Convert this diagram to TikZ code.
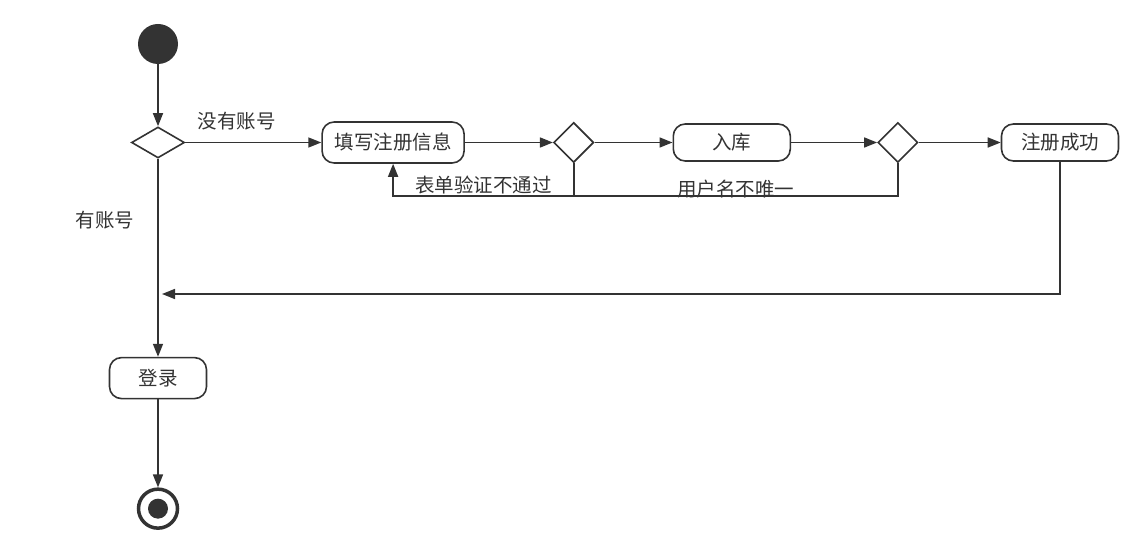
\documentclass[tikz,border=0pt]{standalone}
\usepackage{fontspec}
\newfontfamily\cjk{Noto Sans CJK SC}
\usepackage{tikz}
\usetikzlibrary{positioning, arrows.meta, calc, shapes.geometric}
\definecolor{ink}{HTML}{333333}

\begin{document}
\begin{tikzpicture}[x=1pt,y=-1pt]
	% Define styles
	\tikzset{
		act/.style={rectangle, rounded corners=12pt, draw=ink, line width=1.6pt, text=ink, minimum height=41pt, inner sep=0pt, font=\cjk\fontsize{19.5}{19.5}\selectfont},
		choice/.style={diamond, draw=ink, line width=1.6pt, inner sep=0pt, minimum width=40pt, minimum height=40pt},
		link/.style={draw=ink, line width=1.6pt},
		line/.style={link, -{Triangle[length=13pt,width=10pt]}},
		lbl/.style={text=ink, inner sep=1pt, font=\cjk\fontsize{19.5}{19.5}\selectfont},
		startdot/.style={circle, fill=ink, minimum size=40pt, inner sep=0pt},
		endring/.style={circle, draw=ink, line width=3.5pt, minimum size=39pt, inner sep=0pt},
		enddot/.style={circle, fill=ink, minimum size=20pt, inner sep=0pt}
	}
	\useasboundingbox (0,0) rectangle (1144,556);
	% Nodes
	\node[startdot] (start) at (158,44) {};
	\node[choice, minimum width=53pt, minimum height=31pt, below=62pt of start] (check) {};
	\node[act, minimum width=142pt, right=136pt of check] (fill) {填写注册信息};
	\node[choice, right=88pt of fill] (valid) {};
	\node[act, minimum width=117pt, minimum height=37pt, right=78pt of valid] (store) {入库};
	\node[choice, right=86pt of store] (unique) {};
	\node[act, minimum width=117pt, minimum height=37pt, right=82pt of unique] (done) {注册成功};
	\node[act, minimum width=97pt, below=198pt of check] (login) {登录};
	\node[endring, below=88pt of login] (end) {};
	\node[enddot] at (end) {};

	\coordinate[below=33pt of valid.south] (back);
	\coordinate (level) at (0,294);
	\coordinate (merge) at ($(check.south |- level)+(4,0)$);

	% Arrows
	\draw[line] (start) -- (check);
	\draw[line] (check) -- node[lbl, pos=0.38, above=11pt] {没有账号} (fill);
	\draw[line] (check) -- node[lbl, pos=0.31, left=22pt] {有账号} (login);
	\draw[line] (fill) -- (valid);
	\draw[line] (valid) -- (store);
	\draw[line] (store) -- (unique);
	\draw[line] (unique) -- (done);

	\draw[line] (valid.south) -- (back) -| node[lbl, pos=0.25, above] {表单验证不通过} (fill.south);
	\draw[link] (unique.south) |- node[lbl, pos=0.75, yshift=7pt] {用户名不唯一} (back);
	\draw[line] (done.south) |- (merge);

	\draw[line] (login) -- (end);
\end{tikzpicture}
\end{document}
